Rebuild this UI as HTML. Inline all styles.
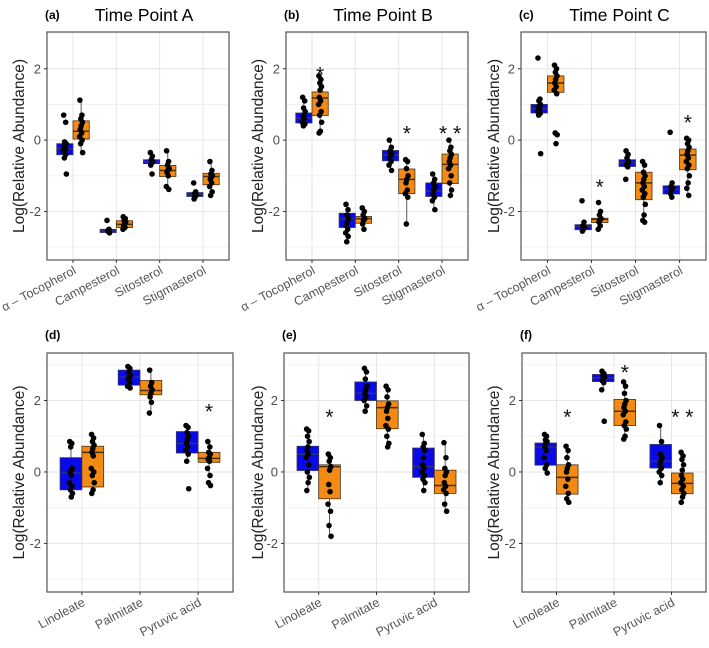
<!DOCTYPE html>
<html><head><meta charset="utf-8"><style>
body{margin:0;background:#fff;}
svg{display:block;font-family:"Liberation Sans",Arial,sans-serif;}
</style></head><body>
<svg id="fig" width="709" height="648" viewBox="0 0 709 648"></svg>
<script>
const catsTop = ["α – Tocopherol","Campesterol","Sitosterol","Stigmasterol"];
const catsBottom = ["Linoleate","Palmitate","Pyruvic acid"];
const yTicks = [-2,0,2];
const yTickLabels = ["-2","0","2"];

// Panel (a)
const aBlueBox = [[-0.41,-0.24,-0.10],[-2.59,-2.54,-2.50],[-0.66,-0.60,-0.55],[-1.58,-1.52,-1.47]];
const aOrangeBox = [[0.03,0.25,0.54],[-2.45,-2.36,-2.26],[-1.02,-0.85,-0.71],[-1.25,-1.02,-0.93]];
const aBluePts = [[0.7,0.5,-0.05,-0.1,-0.15,-0.2,-0.25,-0.3,-0.4,-0.5,-0.95],[-2.25,-2.5,-2.55,-2.6,-2.52],[-0.35,-0.45,-0.55,-0.6,-0.65,-0.7,-0.95],[-1.2,-1.45,-1.5,-1.55,-1.6,-1.65]];
const aOrangePts = [[1.12,0.7,0.6,0.5,0.4,0.3,0.2,0.1,0,-0.1,-0.35],[-2.15,-2.2,-2.25,-2.3,-2.35,-2.4,-2.45,-2.5],[-0.3,-0.6,-0.7,-0.8,-0.85,-0.9,-1.0,-1.3,-1.38],[-0.6,-0.85,-0.95,-1.0,-1.05,-1.1,-1.2,-1.3,-1.45,-1.55]];
const aStars = ["","","",""];
const aStarY = [0,0,0,0];

// Panel (b)
const bBlueBox = [[0.48,0.62,0.76],[-2.45,-2.2,-2.05],[-0.58,-0.42,-0.29],[-1.58,-1.43,-1.2]];
const bOrangeBox = [[0.69,1.18,1.35],[-2.33,-2.2,-2.14],[-1.5,-1.1,-0.81],[-1.22,-0.68,-0.39]];
const bBluePts = [[1.2,1.1,0.9,0.8,0.7,0.65,0.6,0.5,0.45,0.4],[-1.8,-1.95,-2.1,-2.2,-2.3,-2.4,-2.5,-2.6,-2.7,-2.85],[0,-0.2,-0.3,-0.4,-0.45,-0.5,-0.6,-0.7,-0.85],[-0.95,-1.1,-1.2,-1.3,-1.4,-1.5,-1.6,-1.7,-1.95]];
const bOrangePts = [[1.8,1.7,1.6,1.5,1.4,1.2,1.1,1.0,0.8,0.7,0.5,0.25,0.2],[-1.9,-2.0,-2.1,-2.2,-2.25,-2.35,-2.5],[-0.55,-0.6,-0.8,-1.0,-1.1,-1.2,-1.4,-1.5,-1.6,-2.35],[0,-0.2,-0.3,-0.4,-0.5,-0.6,-0.7,-0.8,-1.0,-1.2,-1.4,-1.55]];
const bStars = ["*","","*","* *"];
const bStarY = [1.95,0,0.3,0.3];

// Panel (c)
const cBlueBox = [[0.76,0.88,1.0],[-2.51,-2.42,-2.37],[-0.74,-0.63,-0.55],[-1.51,-1.38,-1.28]];
const cOrangeBox = [[1.34,1.6,1.8],[-2.31,-2.22,-2.19],[-1.67,-1.2,-0.9],[-0.83,-0.42,-0.25]];
const cBluePts = [[2.3,1.15,1.1,1.0,0.95,0.9,0.85,0.8,0.75,0.7,-0.38],[-1.7,-2.3,-2.4,-2.45,-2.5,-2.55],[-0.3,-0.4,-0.5,-0.6,-0.65,-0.7,-0.75,-1.1],[0.22,-1.2,-1.3,-1.35,-1.4,-1.5,-1.6]];
const cOrangePts = [[2.1,2.0,1.9,1.8,1.7,1.6,1.5,1.4,1.3,0.2,0.15,-0.1],[-1.75,-2.0,-2.1,-2.2,-2.25,-2.3,-2.4,-2.5],[-0.6,-0.7,-0.9,-1.0,-1.1,-1.2,-1.3,-1.4,-1.5,-1.6,-1.8,-2.1,-2.25,-2.3],[0.05,0,-0.1,-0.2,-0.3,-0.4,-0.5,-0.6,-0.7,-0.8,-1.0,-1.2,-1.35,-1.55]];
const cStars = ["","*","","*"];
const cStarY = [0,-1.2,0,0.6];

// Panel (d)
const dBlueBox = [[-0.5,-0.03,0.4],[2.43,2.65,2.85],[0.53,0.8,1.13]];
const dOrangeBox = [[-0.42,0.55,0.72],[2.16,2.28,2.56],[0.27,0.38,0.55]];
const dBluePts = [[0.85,0.8,0.7,0.1,0.05,0,-0.1,-0.3,-0.4,-0.5,-0.6,-0.7],[2.95,2.9,2.8,2.7,2.65,2.6,2.5,2.4,2.35],[1.3,1.25,1.1,1.0,0.9,0.8,0.7,0.6,0.5,0.3,-0.47]];
const dOrangePts = [[1.05,0.95,0.85,0.75,0.65,0.55,0.45,0.1,0,-0.1,-0.3,-0.5,-0.6],[2.85,2.5,2.4,2.3,2.2,2.1,1.95,1.65],[0.85,0.7,0.55,0.5,0.4,0.35,0.3,0.1,-0.1,-0.3,-0.38]];
const dStars = ["","","*"];
const dStarY = [0,0,1.8];

// Panel (e)
const eBlueBox = [[0.04,0.5,0.72],[2.0,2.2,2.52],[-0.15,0.15,0.67]];
const eOrangeBox = [[-0.75,0.15,0.2],[1.21,1.8,1.99],[-0.6,-0.38,0.05]];
const eBluePts = [[1.2,1.15,1.0,0.85,0.7,0.6,0.5,0.4,0.2,0,-0.15,-0.3,-0.52],[2.9,2.8,2.6,2.4,2.3,2.2,2.1,2.0,1.85,1.7],[1.05,0.8,0.7,0.6,0.4,0.2,0.1,0,-0.1,-0.2,-0.3,-0.52]];
const eOrangePts = [[0.5,0.4,0.3,0.15,0.05,-0.35,-0.55,-0.9,-1.1,-1.5,-1.8],[2.4,2.3,2.1,1.9,1.8,1.7,1.5,1.3,1.2,1.0,0.8,0.7],[0.82,0.4,0.1,0,-0.1,-0.3,-0.4,-0.5,-0.6,-0.9,-1.1]];
const eStars = ["*","",""];
const eStarY = [1.65,0,0];

// Panel (f)
const fBlueBox = [[0.19,0.7,0.81],[2.53,2.63,2.73],[0.11,0.3,0.77]];
const fOrangeBox = [[-0.62,-0.15,0.2],[1.3,1.7,2.03],[-0.61,-0.32,-0.03]];
const fBluePts = [[1.05,1.0,0.9,0.85,0.8,0.7,0.6,0.4,0.2,0.1,-0.03],[2.82,2.75,2.7,2.65,2.6,2.55,2.5,2.3,1.42],[1.3,0.85,0.5,0.4,0.3,0.2,0.1,0,-0.1,-0.3]];
const fOrangePts = [[0.72,0.6,0.4,0.2,0.1,0,-0.2,-0.4,-0.6,-0.75,-0.85],[2.52,2.4,2.2,2.0,1.9,1.8,1.7,1.6,1.4,1.3,1.2,1.0,0.92],[0.55,0.45,0.35,0.2,0.05,-0.1,-0.2,-0.3,-0.4,-0.5,-0.6,-0.7,-0.85]];
const fStars = ["*","*","* *"];
const fStarY = [1.65,2.9,1.65];

const NS = "http://www.w3.org/2000/svg";
const svg = document.getElementById("fig");
function mk(tag, attrs, parent){
  const e = document.createElementNS(NS, tag);
  for (const k in attrs) e.setAttribute(k, attrs[k]);
  (parent||svg).appendChild(e);
  return e;
}
const jit = [-1.2,0.8,-0.3,1.3,0,-0.8,0.5,-1.5,1,-0.5,1.5,0.3,-1,0.9];

function whiskers(box, pts){
  const iqr = box[2]-box[0];
  const lo = box[0]-1.5*iqr, hi = box[2]+1.5*iqr;
  let wl = box[0], wh = box[2];
  pts.forEach(p=>{ if (p>=lo && p<wl) wl=p; if (p<=hi && p>wh) wh=p; });
  return [wl, wh];
}

function panel(cfg){
  const g = mk("g", {});
  
  
  const {L,R,T,B,yMin,yMax,cats} = cfg;
  const ys = v => T + (yMax - v) / (yMax - yMin) * (B - T);
  const band = (R - L) / (cats.length - 1 + 1.2);
  const xs = i => L + band * (0.6 + i);
  const grid = mk("g", {}, g);
  
  
  [-3,-1,1,3].forEach(v=>{ if (v>yMin && v<yMax) mk("line",{x1:L,x2:R,y1:ys(v),y2:ys(v),stroke:"#f0f0f0","stroke-width":0.8},grid); });
  yTicks.forEach(v=>mk("line",{x1:L,x2:R,y1:ys(v),y2:ys(v),stroke:"#e6e6e6","stroke-width":1},grid));
  cats.forEach((c,i)=>mk("line",{x1:xs(i),x2:xs(i),y1:T,y2:B,stroke:"#e6e6e6","stroke-width":1},grid));
  const bw = band*0.375, off = band*0.1875;
  const series = [
    {box:cfg.blueBox, pts:cfg.bluePts, fill:"#0a0ae8", stroke:"#333366", med:"#30307a", dx:-off, name:"blue"},
    {box:cfg.orangeBox, pts:cfg.orangePts, fill:"#f28a14", stroke:"#4a3010", med:"#4a3010", dx:off, name:"orange"}
  ];
  series.forEach(s=>{
    cats.forEach((c,i)=>{
      const cx = xs(i)+s.dx, b = s.box[i], p = s.pts[i];
      const bx = mk("g",{},g);
      
      
      const w = whiskers(b,p);
      mk("line",{x1:cx,x2:cx,y1:ys(w[1]),y2:ys(b[2]),stroke:"#333","stroke-width":0.8},bx);
      mk("line",{x1:cx,x2:cx,y1:ys(b[0]),y2:ys(w[0]),stroke:"#333","stroke-width":0.8},bx);
      mk("rect",{x:cx-bw/2,y:ys(b[2]),width:bw,height:Math.max(1,ys(b[0])-ys(b[2])),fill:s.fill,stroke:s.stroke,"stroke-width":0.8},bx);
      mk("line",{x1:cx-bw/2,x2:cx+bw/2,y1:ys(b[1]),y2:ys(b[1]),stroke:s.med,"stroke-width":1.5},bx);
      p.forEach((v,k)=>{
        const dot = mk("circle",{cx:cx+jit[k%jit.length],cy:ys(v),r:2.8,fill:"#000"},bx);
        
        
      });
    });
  });
  cfg.stars.forEach((s,i)=>{
    if (!s) return;
    const t = mk("text",{x:xs(i)+off,y:ys(cfg.starY[i])+11,"text-anchor":"middle","font-size":21,fill:"#111"},g);
    
    
    t.textContent = s;
  });
  const bd = mk("rect",{x:L,y:T,width:R-L,height:B-T,fill:"none",stroke:"#555","stroke-width":1.2},g);
  
  
  yTicks.forEach((v,k)=>{
    mk("line",{x1:L-3,x2:L,y1:ys(v),y2:ys(v),stroke:"#333","stroke-width":1},g);
    const t = mk("text",{x:L-6,y:ys(v)+4.5,"text-anchor":"end","font-size":13,fill:"#4d4d4d"},g);
    
    
    t.textContent = yTickLabels[k];
  });
  cats.forEach((c,i)=>{
    mk("line",{x1:xs(i),x2:xs(i),y1:B,y2:B+3,stroke:"#333","stroke-width":1},g);
    const t = mk("text",{x:xs(i)+4,y:B+13,"text-anchor":"end","font-size":12.5,fill:"#555",transform:`rotate(-28 ${xs(i)+4} ${B+13})`},g);
    
    
    t.textContent = c;
  });
  const cy = (T+B)/2, tx = cfg.ytx;
  const yt = mk("text",{x:tx,y:cy,"text-anchor":"middle","font-size":15.5,fill:"#222",transform:`rotate(-90 ${tx} ${cy})`},g);
  
  
  yt.textContent = "Log(Relative Abundance)";
  const tg = mk("text",{x:L-2,y:cfg.tagY,"font-size":12,"font-weight":"bold",fill:"#000"},g);
  
  
  tg.textContent = "(" + cfg.id + ")";
  if (cfg.title){
    const tt = mk("text",{x:(L+R)/2+6,y:cfg.tagY+2,"text-anchor":"middle","font-size":17.5,fill:"#000"},g);
    
    
    tt.textContent = cfg.title;
  }
}

const topY = {T:32,B:260,yMin:-3.36,yMax:3.03,tagY:19};
const botY = {T:353,B:592,yMin:-3.36,yMax:3.33,tagY:339};
panel(Object.assign({id:"a",title:"Time Point A",L:47,R:229,ytx:24,cats:catsTop,blueBox:aBlueBox,orangeBox:aOrangeBox,bluePts:aBluePts,orangePts:aOrangePts,stars:aStars,starY:aStarY},topY));
panel(Object.assign({id:"b",title:"Time Point B",L:286,R:468,ytx:263,cats:catsTop,blueBox:bBlueBox,orangeBox:bOrangeBox,bluePts:bBluePts,orangePts:bOrangePts,stars:bStars,starY:bStarY},topY));
panel(Object.assign({id:"c",title:"Time Point C",L:521,R:706,ytx:499,cats:catsTop,blueBox:cBlueBox,orangeBox:cOrangeBox,bluePts:cBluePts,orangePts:cOrangePts,stars:cStars,starY:cStarY},topY));
panel(Object.assign({id:"d",L:47,R:233,ytx:24,cats:catsBottom,blueBox:dBlueBox,orangeBox:dOrangeBox,bluePts:dBluePts,orangePts:dOrangePts,stars:dStars,starY:dStarY},botY));
panel(Object.assign({id:"e",L:284,R:469,ytx:263,cats:catsBottom,blueBox:eBlueBox,orangeBox:eOrangeBox,bluePts:eBluePts,orangePts:eOrangePts,stars:eStars,starY:eStarY},botY));
panel(Object.assign({id:"f",L:522,R:706,ytx:499,cats:catsBottom,blueBox:fBlueBox,orangeBox:fOrangeBox,bluePts:fBluePts,orangePts:fOrangePts,stars:fStars,starY:fStarY},botY));
</script>
</body></html>
